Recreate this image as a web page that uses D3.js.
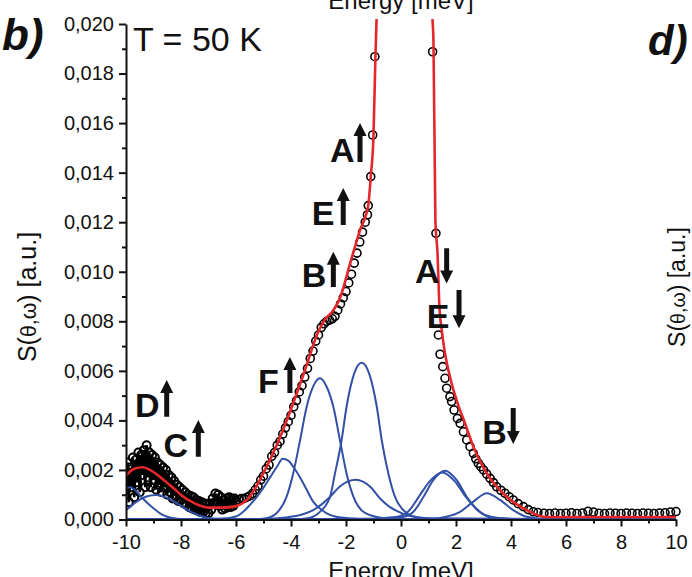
<!DOCTYPE html>
<html>
<head>
<meta charset="utf-8">
<script src="https://cdn.jsdelivr.net/npm/d3@7/dist/d3.min.js"></script>
<style>
  html, body { margin: 0; padding: 0; background: #fff; }
  svg { display: block; }
  text { font-family: 'Liberation Sans', Arial, Helvetica, sans-serif; fill: #111; }
</style>
</head>
<body>
<svg id="chart" width="692" height="577"></svg>
<script>
// ---------- DATA (S in units of 1e-3 a.u.) ----------
const xTickValues = [-10, -8, -6, -4, -2, 0, 2, 4, 6, 8, 10];
const xTickLabels = ["-10", "-8", "-6", "-4", "-2", "0", "2", "4", "6", "8", "10"];
const xMinorTicks = [-9, -7, -5, -3, -1, 1, 3, 5, 7, 9];
const yTickValues = [0, 2, 4, 6, 8, 10, 12, 14, 16, 18, 20];
const yTickLabels = ["0,000", "0,002", "0,004", "0,006", "0,008", "0,010", "0,012", "0,014", "0,016", "0,018", "0,020"];
const yMinorTicks = [1, 3, 5, 7, 9, 11, 13, 15, 17, 19];

// measured points (open circles)
const dataEnergy = [
  -10.00, -9.95, -9.90, -9.85, -9.80, -9.75, -9.70, -9.65, -9.60, -9.55,
  -9.50, -9.45, -9.40, -9.35, -9.30, -9.25, -9.20, -9.15, -9.10, -9.05,
  -9.00, -8.95, -8.90, -8.85, -8.80, -8.75, -8.70, -8.65, -8.60, -8.55,
  -8.50, -8.45, -8.40, -8.35, -8.30, -8.25, -8.20, -8.15, -8.10, -8.05,
  -8.00, -7.95, -7.90, -7.85, -7.80, -7.75, -7.70, -7.65, -7.60, -7.55,
  -7.50, -7.45, -7.40, -7.35, -7.30, -7.25, -7.20, -7.15, -7.10, -7.05,
  -7.00, -6.95, -6.90, -6.85, -6.80, -6.75, -6.70, -6.65, -6.60, -6.55,
  -6.50, -6.45, -6.40, -6.35, -6.30, -6.25, -6.20, -6.15, -6.10, -6.05,
  -6.0, -5.9, -5.8, -5.7, -5.6, -5.5, -5.4, -5.3, -5.2, -5.1,
  -5.0, -4.9, -4.8, -4.7, -4.6, -4.5, -4.4, -4.3, -4.2, -4.1,
  -4.0, -3.9, -3.8, -3.7, -3.6, -3.5, -3.4, -3.3, -3.2, -3.1,
  -3.0, -2.9, -2.8, -2.7, -2.6, -2.5, -2.4, -2.3, -2.2, -2.1,
  -2.0, -1.9, -1.8, -1.7, -1.6, -1.5, -1.4, -1.3, -1.22, -1.19,
  -1.10, -1.03, -0.95,
  1.15, 1.27, 1.36, 1.42, 1.52, 1.60, 1.66, 1.78, 1.84, 1.93,
  2.05, 2.15, 2.27, 2.39, 2.51, 2.63, 2.72, 2.81, 2.90, 3.00,
  3.12, 3.24, 3.36, 3.48, 3.63, 3.78, 3.93, 4.08, 4.26, 4.45,
  4.63, 4.81, 4.98,
  5.2, 5.4, 5.6, 5.8, 6.0, 6.2, 6.4, 6.6, 6.8, 7.0,
  7.2, 7.4, 7.6, 7.8, 8.0, 8.2, 8.4, 8.6, 8.8, 9.0,
  9.2, 9.4, 9.6, 9.8, 10.0
];
const dataS = [
  1.20, 2.30, 0.70, 2.10, 1.30, 2.50, 0.90, 2.40, 1.50, 2.70,
  1.10, 2.60, 1.80, 2.80, 1.30, 3.00, 1.70, 2.70, 1.30, 2.60,
  1.60, 2.50, 1.20, 2.30, 1.40, 2.20, 1.10, 2.10, 1.30, 2.00,
  1.00, 1.80, 1.10, 1.70, 0.85, 1.55, 0.95, 1.40, 0.75, 1.30,
  0.80, 1.20, 0.65, 1.10, 0.60, 1.00, 0.50, 0.95, 0.45, 0.90,
  0.40, 0.80, 0.35, 0.75, 0.30, 0.70, 0.28, 0.65, 0.25, 0.62,
  0.25, 0.65, 0.40, 0.85, 0.65, 1.05, 0.75, 1.00, 0.55, 0.90,
  0.40, 0.80, 0.45, 0.85, 0.50, 0.90, 0.50, 0.85, 0.55, 0.85,
  0.75, 0.80, 0.85, 0.85, 0.90, 0.95, 1.05, 1.20, 1.35, 1.60,
  1.75, 2.05, 2.20, 2.55, 2.70, 3.00, 3.15, 3.45, 3.70, 3.95,
  4.20, 4.55, 4.80, 5.15, 5.40, 5.75, 6.10, 6.50, 6.80, 7.20,
  7.45, 7.75, 7.90, 8.00, 8.05, 8.10, 8.20, 8.45, 8.70, 8.95,
  9.20, 9.55, 9.90, 10.35, 10.75, 11.20, 11.60, 12.00, 12.30, 12.67,
  13.84, 15.52, 18.68,
  18.88, 11.55, 7.45, 6.67, 6.17, 5.70, 5.30, 4.96, 4.76, 4.42,
  4.08, 3.88, 3.54, 3.21, 2.94, 2.67, 2.45, 2.27, 2.13, 2.00,
  1.83, 1.66, 1.49, 1.32, 1.18, 1.06, 0.92, 0.79, 0.64, 0.52,
  0.40, 0.31, 0.28,
  0.25, 0.24, 0.26, 0.24, 0.25, 0.27, 0.24, 0.26, 0.33, 0.30,
  0.25, 0.24, 0.26, 0.25, 0.24, 0.26, 0.25, 0.24, 0.26, 0.25,
  0.24, 0.26, 0.27, 0.30, 0.32
];

// total fit (red), two branches around the off-scale central peak
const fitLeftEnergy = [-10, -9.7, -9.4, -9.1, -8.8, -8.5, -8.2, -8.0, -7.5, -7.0, -6.5, -6.0, -5.5, -5.0, -4.5, -4.0, -3.5, -3.0, -2.75, -2.5, -2.22, -1.85, -1.49, -1.19, -1.1, -1.0, -0.93, -0.88];
const fitLeftS = [1.77, 2.05, 2.11, 1.98, 1.75, 1.47, 1.2, 0.99, 0.65, 0.48, 0.48, 0.54, 0.92, 1.88, 3.05, 4.45, 6.0, 7.6, 8.1, 8.38, 8.93, 10.34, 11.68, 12.69, 13.84, 15.5, 18.7, 20.5];
const fitRightEnergy = [1.12, 1.18, 1.25, 1.33, 1.39, 1.48, 1.6, 1.78, 2.02, 2.33, 2.63, 3.12, 3.84, 4.57, 5.05, 5.3, 6, 7, 8, 9, 10];
const fitRightS = [20.5, 19.35, 12.1, 10.7, 8.73, 7.65, 6.71, 5.76, 4.82, 3.88, 2.94, 1.86, 0.92, 0.38, 0.14, 0.1, 0.1, 0.1, 0.1, 0.1, 0.1];

// fitted components (blue)
const peakD_E = [-10, -9.85, -9.7, -9.5, -9.25, -9.0, -8.75, -8.5, -8.25, -8.0, -7.5, -6, 10];
const peakD_S = [1.25, 1.3, 1.22, 0.98, 0.7, 0.45, 0.24, 0.11, 0.05, 0.02, 0.0, 0, 0];
const peakC_E = [-10, -9.75, -9.5, -9.25, -8.9, -8.5, -8.25, -8.0, -7.75, -7.5, -7.25, -7.0, -6.75, -6.5, -5, 10];
const peakC_S = [0.38, 0.6, 0.8, 0.93, 0.99, 0.87, 0.72, 0.55, 0.38, 0.24, 0.13, 0.06, 0.03, 0.01, 0, 0];
const peakF_E = [-10, -6.5, -6.0, -5.75, -5.5, -5.25, -5.0, -4.75, -4.5, -4.3, -4.1, -3.9, -3.67, -3.43, -3.18, -2.9, -2.7, -2.4, -2.0, -1.5, -0.5, 10];
const peakF_S = [0, 0.04, 0.12, 0.3, 0.58, 0.9, 1.28, 1.72, 2.15, 2.45, 2.38, 2.1, 1.7, 1.2, 0.7, 0.4, 0.25, 0.12, 0.06, 0.03, 0.01, 0];
const peakB_E = [-10, -5.5, -4.9, -4.53, -4.16, -3.92, -3.67, -3.43, -3.2, -2.95, -2.7, -2.46, -2.22, -1.98, -1.73, -1.37, -0.88, -0.3, 10];
const peakB_S = [0, 0, 0.05, 0.25, 0.92, 1.86, 3.2, 4.55, 5.35, 5.7, 5.35, 4.55, 3.2, 1.86, 0.92, 0.31, 0.1, 0.02, 0];
const peakA_E = [-10, -4, -3.4, -2.95, -2.58, -2.4, -2.16, -1.98, -1.7, -1.43, -1.16, -0.88, -0.7, -0.46, -0.22, 0.15, 0.6, 1.2, 10];
const peakA_S = [0, 0, 0.05, 0.31, 0.92, 1.86, 3.2, 4.55, 5.9, 6.33, 5.9, 4.55, 3.2, 1.86, 0.92, 0.31, 0.08, 0.02, 0];
const peakE_E = [-10, -5, -4.2, -3.6, -3.19, -2.9, -2.58, -2.2, -1.65, -1.1, -0.76, -0.4, -0.16, 0.3, 1, 10];
const peakE_S = [0, 0.02, 0.08, 0.2, 0.38, 0.6, 0.92, 1.35, 1.6, 1.3, 0.85, 0.5, 0.35, 0.15, 0.05, 0];
const peakA2_E = [-10, -1, 0.07, 0.45, 0.82, 1.18, 1.6, 2.02, 2.39, 2.87, 3.2, 4, 10];
const peakA2_S = [0, 0.02, 0.1, 0.31, 0.92, 1.6, 1.97, 1.6, 0.92, 0.31, 0.1, 0.02, 0];
const peakE2_E = [-10, -1.5, -0.2, 0.25, 0.65, 1.05, 1.5, 1.95, 2.35, 2.85, 3.3, 4.2, 10];
const peakE2_S = [0, 0.02, 0.1, 0.31, 0.92, 1.55, 1.9, 1.55, 0.92, 0.31, 0.1, 0.02, 0];
const peakB2_E = [-10, 1, 1.6, 2.15, 2.63, 3.12, 3.6, 4.08, 4.57, 5.2, 10];
const peakB2_S = [0, 0.01, 0.1, 0.31, 0.72, 1.06, 0.79, 0.38, 0.11, 0.02, 0];

// peak annotations (letter, direction), anchored in data units
const annLabels = ["A", "E", "B", "F", "D", "C", "A", "E", "B"];
const annUp = [true, true, true, true, true, true, false, false, false];
const annLetterE = [-2.58, -3.25, -3.61, -5.20, -9.67, -8.64, 0.51, 0.94, 2.95];
const annBaseS = [14.43, 11.89, 9.38, 5.11, 4.15, 2.53, 9.53, 7.72, 3.05];
const annArrowE = [-1.49, -2.10, -2.46, -4.04, -8.52, -7.37, 1.66, 2.11, 4.08];
const annArrowTopS = [16.0, 13.38, 10.81, 6.56, 5.63, 4.02, 10.95, 9.26, 4.50];

// ---------- CHART ----------
const svg = d3.select("#chart");
const x = d3.scaleLinear().domain([-10, 10]).range([126, 676]);
const y = d3.scaleLinear().domain([0, 20]).range([519.5, 24]);

const blue = "#3150a6";
const red = "#e3272b";

svg.append("defs").append("clipPath").attr("id", "plotclip")
  .append("rect").attr("x", 126).attr("y", 19).attr("width", 566).attr("height", 520);

const plot = svg.append("g").attr("clip-path", "url(#plotclip)");

// data points
const points = dataEnergy.map((e, i) => ({ e, s: dataS[i] }));
const noisy = points.filter(p => p.e < -5.95);
plot.append("path")
  .datum(noisy)
  .attr("fill", "none").attr("stroke", "#000").attr("stroke-width", 2.6)
  .attr("d", d3.line().x(d => x(d.e)).y(d => y(d.s)));
plot.append("g").selectAll("circle").data(points).join("circle")
  .attr("cx", d => x(d.e)).attr("cy", d => y(d.s)).attr("r", 4)
  .attr("fill", "none").attr("stroke", "#000")
  .attr("stroke-width", d => d.e < -5.95 ? 2 : 1.6);

// components
const comps = [
  [peakD_E, peakD_S], [peakC_E, peakC_S], [peakF_E, peakF_S], [peakB_E, peakB_S],
  [peakA_E, peakA_S], [peakE_E, peakE_S], [peakA2_E, peakA2_S], [peakE2_E, peakE2_S], [peakB2_E, peakB2_S]
];
const lineMono = d3.line().x(d => x(d[0])).y(d => y(d[1])).curve(d3.curveMonotoneX);
plot.append("g").selectAll("path").data(comps).join("path")
  .attr("d", c => lineMono(c[0].map((e, i) => [e, c[1][i]])))
  .attr("fill", "none").attr("stroke", blue).attr("stroke-width", 2);

// total fit
plot.append("path")
  .attr("d", lineMono(fitLeftEnergy.map((e, i) => [e, fitLeftS[i]])))
  .attr("fill", "none").attr("stroke", red).attr("stroke-width", 2.6);
plot.append("path")
  .attr("d", lineMono(fitRightEnergy.map((e, i) => [e, fitRightS[i]])))
  .attr("fill", "none").attr("stroke", red).attr("stroke-width", 2.6);

// axes
const fontFam = "'Liberation Sans', Arial, sans-serif";
svg.append("g").attr("transform", "translate(126,0)")
  .call(d3.axisLeft(y).tickValues(yTickValues).tickFormat((d, i) => yTickLabels[i]).tickSize(7).tickSizeOuter(0).tickPadding(5));
svg.append("g").attr("transform", "translate(126,0)")
  .call(d3.axisLeft(y).tickValues(yMinorTicks).tickFormat("").tickSize(4).tickSizeOuter(0))
  .select(".domain").remove();
svg.append("g").attr("transform", "translate(0,519.5)")
  .call(d3.axisBottom(x).tickValues(xTickValues).tickFormat((d, i) => xTickLabels[i]).tickSize(7).tickSizeOuter(0).tickPadding(8));
svg.append("g").attr("transform", "translate(0,519.5)")
  .call(d3.axisBottom(x).tickValues(xMinorTicks).tickFormat("").tickSize(4).tickSizeOuter(0))
  .select(".domain").remove();
svg.selectAll(".domain").attr("stroke", "#111").attr("stroke-width", 2);
svg.selectAll(".tick line").attr("stroke", "#111").attr("stroke-width", 2);
svg.selectAll(".tick text").attr("font-family", fontFam).attr("font-size", 20).attr("fill", "#111");

// axis titles
svg.append("text").attr("x", 401).attr("y", 579).attr("text-anchor", "middle")
  .attr("font-size", 24).text("Energy [meV]");
svg.append("text").attr("x", 401).attr("y", 9).attr("text-anchor", "middle")
  .attr("font-size", 24).text("Energy [meV]");

function yTitle(cx, cy, size) {
  const t = svg.append("text").attr("transform", `translate(${cx},${cy}) rotate(-90)`)
    .attr("text-anchor", "middle").attr("font-size", size);
  t.append("tspan").text("S(");
  t.append("tspan").attr("font-size", size * 0.85).text("θ,ω");
  t.append("tspan").text(") [a.u.]");
}
yTitle(36, 297, 25);
yTitle(685, 287, 23);

// panel labels
svg.append("text").attr("x", 2).attr("y", 50).attr("font-size", 44)
  .attr("font-weight", "bold").attr("font-style", "italic").text("b)");
svg.append("text").attr("x", 648).attr("y", 55).attr("font-size", 42)
  .attr("font-weight", "bold").attr("font-style", "italic").text("d)");
svg.append("text").attr("x", 133).attr("y", 51).attr("font-size", 34).text("T = 50 K");

// annotations
const ann = svg.append("g");
annLabels.forEach((lab, i) => {
  ann.append("text").attr("x", x(annLetterE[i])).attr("y", y(annBaseS[i]))
    .attr("font-size", 34).attr("font-weight", "bold").text(lab);
  const ax = x(annArrowE[i]);
  const yTop = y(annArrowTopS[i]);
  const yBot = y(annBaseS[i]);
  const hh = 13, hw = 6.5, sw = 2.5;
  let p;
  if (annUp[i]) {
    p = `M${ax - sw},${yBot} L${ax - sw},${yTop + hh} L${ax - hw},${yTop + hh} L${ax},${yTop} L${ax + hw},${yTop + hh} L${ax + sw},${yTop + hh} L${ax + sw},${yBot} Z`;
  } else {
    p = `M${ax - sw},${yTop} L${ax - sw},${yBot - hh} L${ax - hw},${yBot - hh} L${ax},${yBot} L${ax + hw},${yBot - hh} L${ax + sw},${yBot - hh} L${ax + sw},${yTop} Z`;
  }
  ann.append("path").attr("d", p).attr("fill", "#111");
});
</script>
</body>
</html>
